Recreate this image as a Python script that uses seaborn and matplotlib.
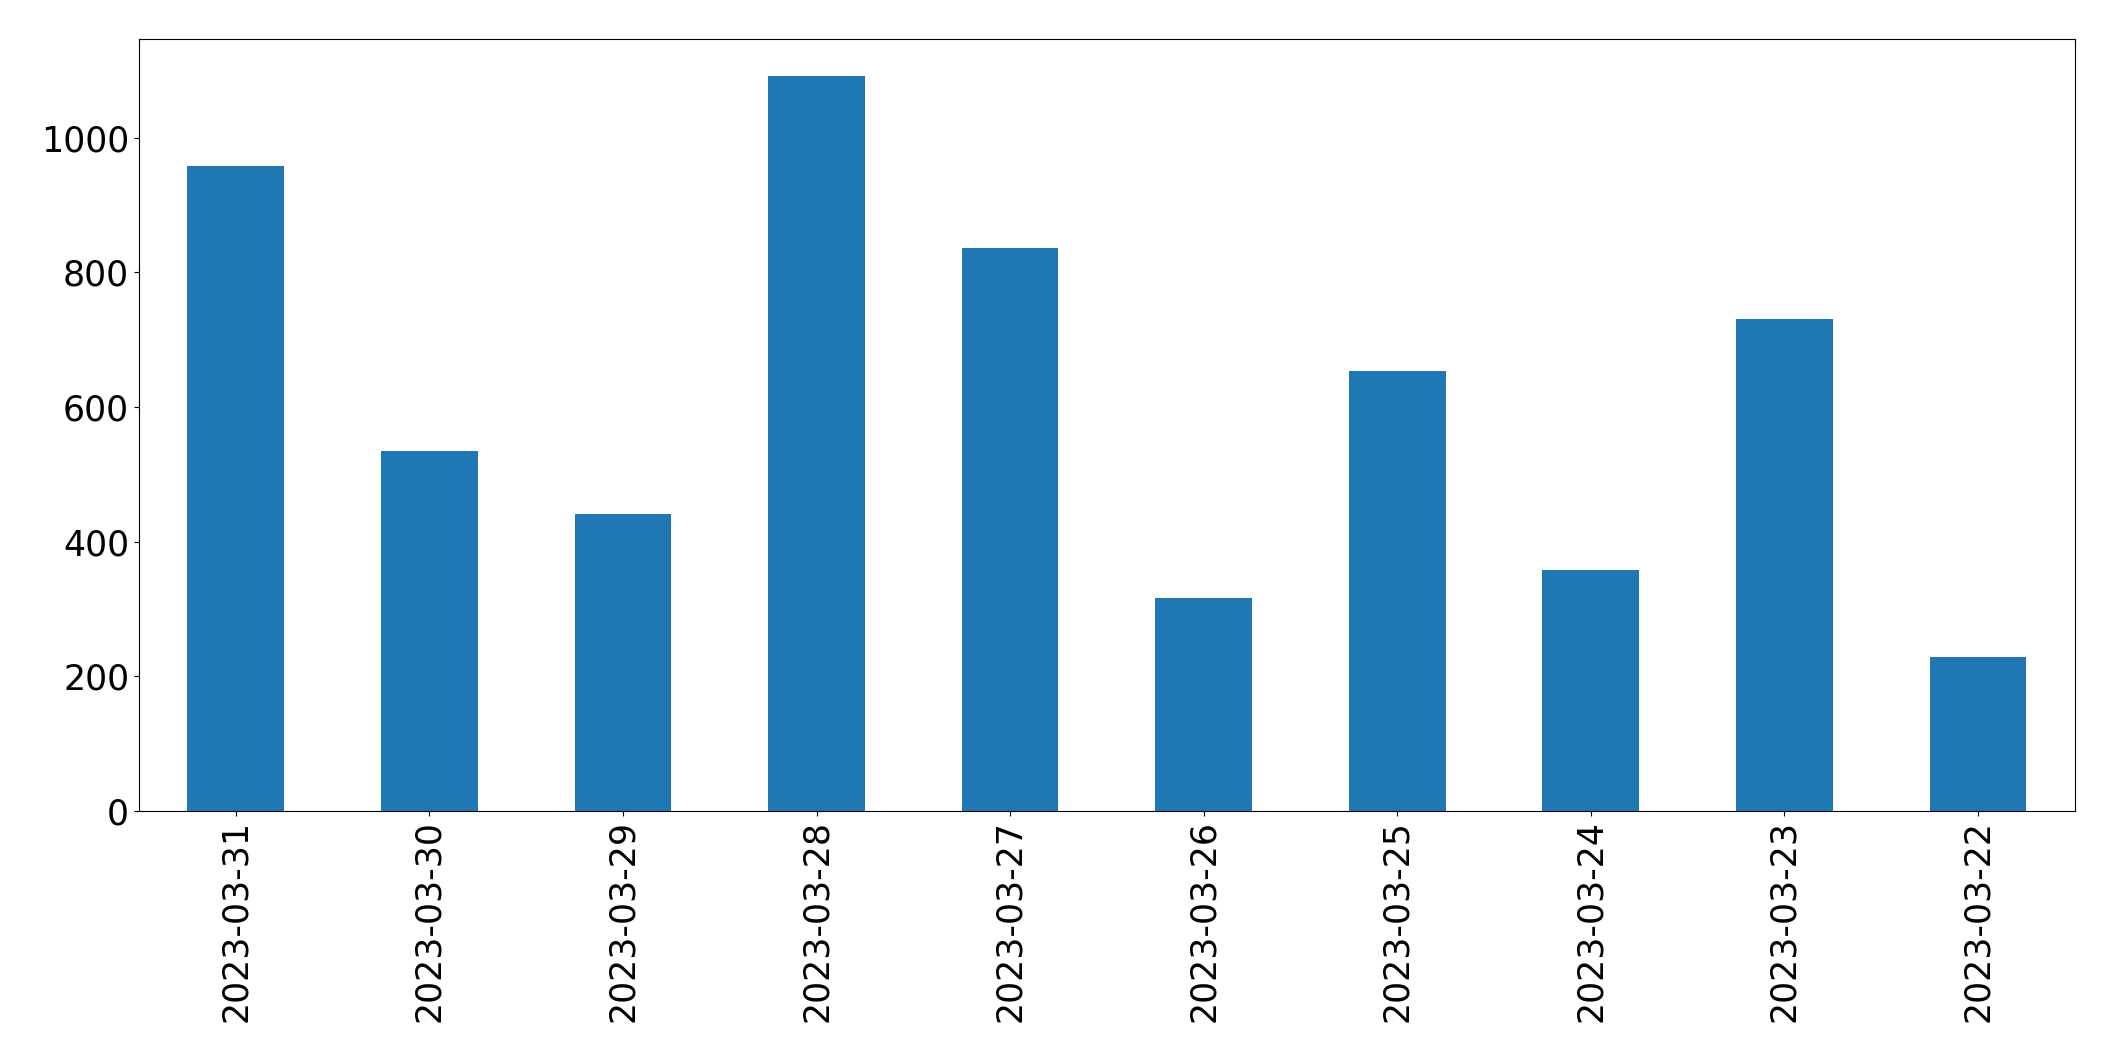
import pandas as pd
import matplotlib
matplotlib.use("Agg")
import matplotlib.pyplot as plt
import seaborn as sns

dates = ["2023-03-31", "2023-03-30", "2023-03-29", "2023-03-28", "2023-03-27",
         "2023-03-26", "2023-03-25", "2023-03-24", "2023-03-23", "2023-03-22"]
counts = [958, 535, 441, 1092, 837, 316, 654, 358, 731, 228]

df = pd.DataFrame({"date": dates, "count": counts})

fig, ax = plt.subplots(figsize=(21.15, 10.61), dpi=100)
fig.subplots_adjust(left=0.0657, right=0.981, top=0.963, bottom=0.236)

sns.barplot(data=df, x="date", y="count", order=dates, color="#1f77b4",
            saturation=1, width=0.5, ax=ax)

ax.set_xlim(-0.5, len(dates) - 0.5)
ax.set_xlabel("")
ax.set_ylabel("")
ax.tick_params(axis="both", labelsize=25)
plt.xticks(rotation=90)

fig.savefig("out.png", dpi=100)
